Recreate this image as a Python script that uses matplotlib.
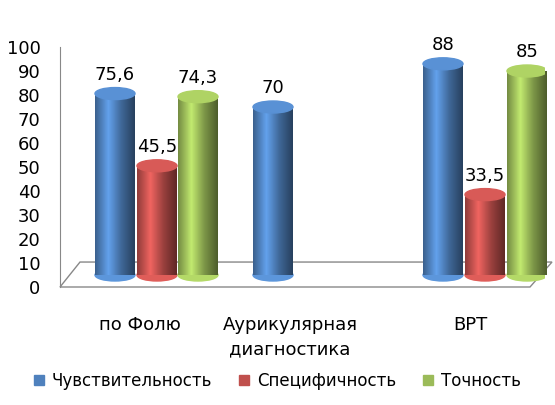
import matplotlib.pyplot as plt
import numpy as np
from matplotlib.patches import Rectangle, Ellipse, Polygon
from matplotlib.colors import LinearSegmentedColormap, to_rgb

categories = ['по Фолю', 'Аурикулярная\nдиагностика', 'ВРТ']
series = ['Чувствительность', 'Специфичность', 'Точность']
sens = [75.6, 70, 88]
spec = [45.5, None, 33.5]
acc = [74.3, None, 85]
labels = [['75,6', '70', '88'], ['45,5', '', '33,5'], ['74,3', '', '85']]
colors = ['#4F81BD', '#C0504D', '#9BBB59']

fig = plt.figure(figsize=(5.55, 4.05), dpi=100)
ax = fig.add_axes([60/555, 118/405, 485/555, 240/405])
ax.set_xlim(60, 545)
ax.set_ylim(0, 100)
for s in ['top', 'right', 'bottom']:
    ax.spines[s].set_visible(False)
ax.spines['left'].set_color('#888888')
ax.set_yticks(range(0, 101, 10))
ax.tick_params(axis='y', length=0, labelsize=13, pad=14)
ax.set_xticks([])

# floor
back = 10.4
ax.add_patch(Polygon([[60, 0], [530, 0], [552, back], [80, back]], closed=True,
                     fill=False, edgecolor='#888888', lw=1, clip_on=False))

centers = [[115, 273, 443], [157, 315, 485], [198, 357, 527]]
base = 5
w = 40
ell_h = 5
vals = [sens, spec, acc]

def shade(c):
    r = np.array(to_rgb(c))
    return LinearSegmentedColormap.from_list('g', [r * 0.75, np.minimum(r * 1.25, 1), r * 0.8, r * 0.5])

for si in range(3):
    cmap = shade(colors[si])
    for ci in range(3):
        v = vals[si][ci]
        if v is None:
            continue
        x0 = centers[si][ci] - w / 2
        rect = Rectangle((x0, base), w, v, transform=ax.transData, visible=False)
        ax.add_patch(rect)
        im = ax.imshow(np.linspace(0, 1, 64)[None, :], cmap=cmap, aspect='auto',
                       extent=[x0, x0 + w, base, base + v], zorder=2)
        im.set_clip_path(rect)
        ax.add_patch(Ellipse((centers[si][ci], base), w, ell_h, color=cmap(0.4), zorder=1.5))
        ax.add_patch(Ellipse((centers[si][ci], base + v), w, ell_h,
                             color=cmap(0.25), zorder=3))
        ax.text(centers[si][ci], base + v + 4, labels[si][ci], ha='center', va='bottom',
                fontsize=13, zorder=4)
ax.set_xlim(60, 545)
ax.set_ylim(0, 100)

cat_x = [140, 290, 470]
for x, c in zip(cat_x, categories):
    ax.text(x, -12, c, ha='center', va='top', fontsize=13, linespacing=1.5, clip_on=False)

handles = [Rectangle((0, 0), 1, 1, color=c) for c in colors]
fig.legend(handles, series, loc='lower center', bbox_to_anchor=(0.5, 0.0), ncol=3,
           frameon=False, fontsize=12, handlelength=0.6, handleheight=0.6,
           columnspacing=1.6, handletextpad=0.5)

fig.savefig('out.png', dpi=100)
